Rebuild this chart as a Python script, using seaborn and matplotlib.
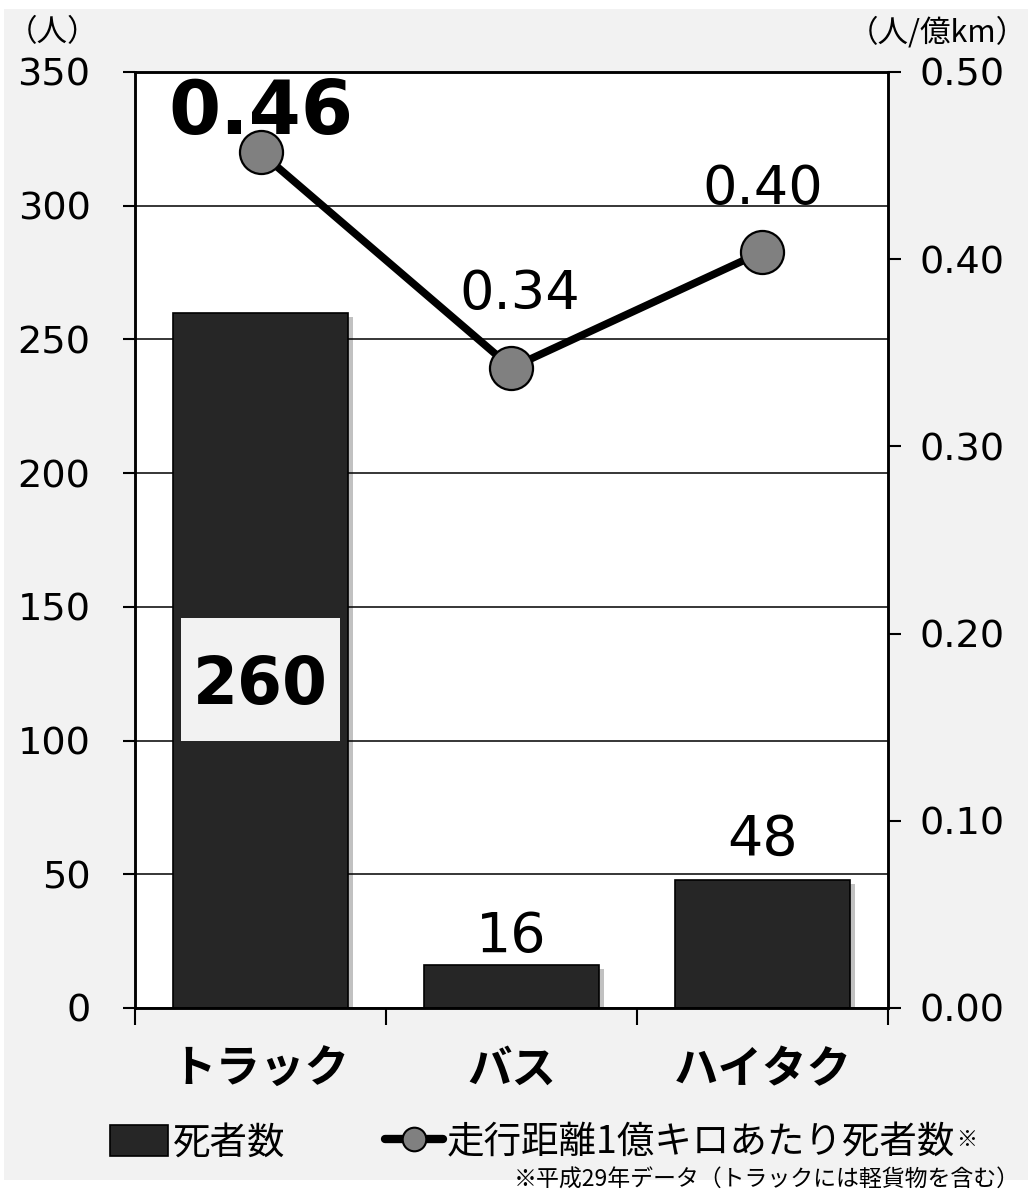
import matplotlib
matplotlib.use("Agg")
import matplotlib.pyplot as plt
import matplotlib.patheffects as pe
from matplotlib.patches import Rectangle, Patch
from matplotlib.lines import Line2D
from matplotlib.ticker import MultipleLocator, FixedLocator
import seaborn as sns
import pandas as pd

# ---- data ----
categories = ["トラック", "バス", "ハイタク"]
deaths = [260, 16, 48]                 # 死者数 (人)
rate_per_100m_km = [0.457, 0.342, 0.404]  # 走行距離1億キロあたり死者数 (人/億km)

left_unit = "（人）"
right_unit = "（人/億km）"
bar_legend = "死者数"
line_legend = "走行距離1億キロあたり死者数"
footnote = "※平成29年データ（トラックには軽貨物を含む）"

df = pd.DataFrame({"category": categories, "deaths": deaths, "rate": rate_per_100m_km})

JP = ["Noto Sans CJK JP", "DejaVu Sans"]
NUM = ["DejaVu Sans", "Noto Sans CJK JP"]

sns.set_style("white")
plt.rcParams["font.family"] = NUM
for key in ("text.color", "axes.labelcolor", "xtick.color", "ytick.color"):
    plt.rcParams[key] = "black"

W, H = 1028, 1195
fig = plt.figure(figsize=(W / 100, H / 100), dpi=100, facecolor="white")

# light grey panel behind the chart
fig.add_artist(Rectangle((4 / W, 1 - 1180 / H), 1 - 4 / W, (1180 - 9) / H,
                         transform=fig.transFigure, facecolor="#f2f2f2",
                         edgecolor="none", zorder=-10))

ax = fig.add_axes([135 / W, 1 - 1008 / H, (888 - 135) / W, (1008 - 72) / H])
ax.set_facecolor("white")

shadow = [pe.SimplePatchShadow(offset=(3, -3), alpha=0.25), pe.Normal()]

sns.barplot(data=df, x="category", y="deaths", ax=ax, color="#262626",
            saturation=1, width=0.7, edgecolor="black", linewidth=1.2, zorder=2)
for p in ax.patches:
    p.set_path_effects(shadow)

ax.set_ylim(0, 350)
ax.yaxis.set_major_locator(MultipleLocator(50))
ax.yaxis.grid(True, color="black", linewidth=1.1)
ax.set_axisbelow(True)
ax.set_xlabel("")
ax.set_ylabel("")

# right axis: rate line
ax2 = ax.twinx()
xpos = list(range(len(categories)))
sns.lineplot(x=xpos, y=df["rate"], ax=ax2, color="black", linewidth=5.5,
             marker="o", markersize=31, markerfacecolor="#808080",
             markeredgecolor="black", markeredgewidth=1.6, zorder=3)
ax2.set_ylim(0, 0.5)
ax2.yaxis.set_major_locator(MultipleLocator(0.1))
ax2.yaxis.set_major_formatter(lambda v, _: f"{v:.2f}")
ax2.set_ylabel("")
ax2.set_xlabel("")

ax.set_xlim(-0.5, len(categories) - 0.5)
ax2.set_xlim(-0.5, len(categories) - 0.5)

# spines and ticks
for a in (ax, ax2):
    for s in a.spines.values():
        s.set_visible(True)
        s.set_color("black")
        s.set_linewidth(1.8)

ax.tick_params(axis="y", which="major", direction="out", length=9, width=1.5,
               pad=23, labelsize=27.5, color="black", labelcolor="black", left=True)
ax2.tick_params(axis="y", which="major", direction="out", length=9, width=1.5,
                pad=14, labelsize=27.5, color="black", labelcolor="black", right=True)
ax.set_xticks(xpos)
ax.set_xticklabels(categories, fontfamily=JP, fontweight="bold", fontsize=32)
ax.tick_params(axis="x", which="major", length=0, pad=28, labelcolor="black")
ax.xaxis.set_minor_locator(FixedLocator([i - 0.5 for i in range(len(categories) + 1)]))
ax.tick_params(axis="x", which="minor", direction="out", length=12, width=1.5,
               color="black", bottom=True)

# axis unit captions
fig.text(52 / W, 1 - 33 / H, left_unit, ha="center", va="center",
         fontsize=22, family=JP)
fig.text(1027 / W, 1 - 33 / H, right_unit, ha="right", va="center",
         fontsize=22, family=JP)

# bar value labels
bar_label_style = [
    dict(boxed=True),
    dict(boxed=False, dy=9.5),
    dict(boxed=False, dy=18),
]
for i, (v, st) in enumerate(zip(deaths, bar_label_style)):
    if st["boxed"]:
        yc = v * 0.473
        ax.add_patch(Rectangle((i - 0.315, yc - 23), 0.63, 46,
                               facecolor="#f2f2f2", edgecolor="none", zorder=4))
        ax.text(i, yc, f"{v}", ha="center", va="center_baseline",
                fontsize=46.5, fontweight="bold", color="black", zorder=5)
    else:
        ax.annotate(f"{v}", (i, v), xytext=(0, st["dy"]),
                    textcoords="offset points", ha="center", va="baseline",
                    fontsize=40, color="black", zorder=5)

# rate value labels
rate_label_style = [
    dict(dx=0, dy=13, bold=True, size=54),
    dict(dx=6, dy=42, bold=False, size=39),
    dict(dx=0, dy=34, bold=False, size=39),
]
for i, (v, st) in enumerate(zip(rate_per_100m_km, rate_label_style)):
    ax2.annotate(f"{v:.2f}", (i, v), xytext=(st["dx"], st["dy"]),
                 textcoords="offset points", ha="center", va="baseline",
                 fontsize=st["size"], fontweight="bold" if st["bold"] else "normal",
                 color="black", zorder=6)

# legend
handles = [
    Patch(facecolor="#262626", edgecolor="black", linewidth=1.2),
    Line2D([], [], color="black", linewidth=6, marker="o", markersize=17,
           markerfacecolor="#808080", markeredgecolor="black", markeredgewidth=1.5),
]
leg = fig.legend(handles, [bar_legend, line_legend], loc="center left",
                 bbox_to_anchor=(110 / W, 1 - 1143 / H), ncol=2, frameon=False,
                 prop={"family": JP, "size": 27}, handlelength=1.55,
                 handleheight=0.88, handletextpad=0.12, columnspacing=2.65,
                 borderpad=0, borderaxespad=0)
for t in leg.get_texts():
    t.set_color("black")

fig.canvas.draw()
bb = leg.get_texts()[1].get_window_extent()
fig.text((bb.x1 + 1) / W, (bb.y1 - 5) / H, "※", ha="left", va="top",
         fontsize=15, family=JP, color="black")

fig.text(1020 / W, 1 - 1180 / H, footnote, ha="right", va="center",
         fontsize=16.5, family=JP, color="black")

fig.savefig("out.png", dpi=100, facecolor="white")
